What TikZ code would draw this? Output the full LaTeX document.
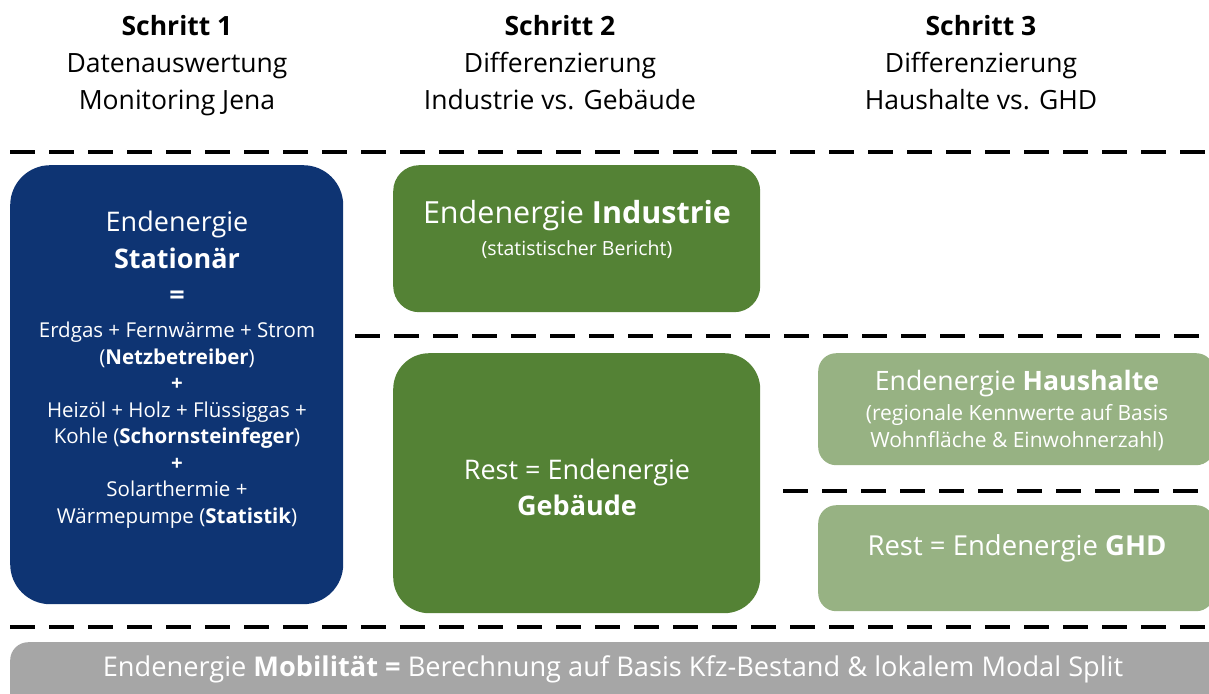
\documentclass[tikz,border=0pt]{standalone}
\usepackage{fontspec}
\setmainfont{Open Sans}
\usetikzlibrary{positioning}

\definecolor{jenablue}{RGB}{14,52,115}
\definecolor{darkgreen}{RGB}{84,130,53}
\definecolor{lightgreen}{RGB}{151,178,131}
\definecolor{mobgrey}{RGB}{166,166,166}

\newcommand{\fsz}[2]{\fontsize{#1}{#2}\selectfont}

\begin{document}
\begin{tikzpicture}[
            x = 1pt, y = -1pt, % pixel coordinates, y down
            sep/.style = {line width=4pt, dash pattern=on 25pt off 14pt}, % dashed separator
            box/.style = {rounded corners=#1, inner sep=0pt, anchor=north west},
            txt/.style = {text=white, align=center, inner sep=0pt},
            head/.style = {align=center, inner sep=0pt, text depth=0pt, font=\fsz{26.5}{37}}
        ]
\useasboundingbox (0,0) rectangle (1209,693);
\clip (0,0) rectangle (1209,693);

% headings
\node[head] (H1) at (177,62) {\textbf{Schritt 1}\\Datenauswertung\\Monitoring Jena};
\node[head] (H2) at (560,62) {\textbf{Schritt 2}\\Differenzierung\\Industrie vs. Gebäude};
\node[head] (H3) at (981,62) {\textbf{Schritt 3}\\Differenzierung\\Haushalte vs. GHD};

% separators
\draw[sep] (10,152) -- (1209,152);
\draw[sep] (355,336) -- (1209,336);
\draw[sep] (783,491) -- (1209,491);
\draw[sep] (10,627) -- (1209,627);

% boxes
\node[box=40pt, fill=jenablue, minimum width=333pt, minimum height=439pt] (S) at (10,165) {};
\node[box=26pt, fill=darkgreen, minimum width=367pt, minimum height=147pt] (I) at (393,165) {};
\node[box=36pt, fill=darkgreen, minimum width=367pt, minimum height=260pt] (G) at (393,353) {};
\node[box=18pt, fill=lightgreen, minimum width=396pt, minimum height=112pt] (HH) at (818,353) {};
\node[box=18pt, fill=lightgreen, minimum width=396pt, minimum height=106pt] (GHD) at (818,505) {};
\node[box=18pt, fill=mobgrey, minimum width=1220pt, minimum height=80pt] (M) at (10,642) {};

% texts
\node[txt, font=\fsz{27}{36.5}] (St) at (177,258) {Endenergie\\\textbf{Stationär}\\\textbf{=}};
\node[txt, font=\fsz{20.5}{26.5}] (Src) at (177,425) {Erdgas + Fernwärme + Strom\\(\textbf{Netzbetreiber})\\\textbf{+}\\Heizöl + Holz + Flüssiggas +\\Kohle (\textbf{Schornsteinfeger})\\\textbf{+}\\Solarthermie +\\Wärmepumpe (\textbf{Statistik})};
\node[txt, font=\fsz{30.5}{34}] (It) at (577,216) {Endenergie \textbf{Industrie}};
\node[txt, font=\fsz{19.5}{24}] (Ib) at (577,250) {(statistischer Bericht)};
\node[txt, font=\fsz{27}{36}] (Gt) at (577,487) {Rest = Endenergie\\\textbf{Gebäude}};
\node[txt, font=\fsz{26.7}{30}] (Ht) at (1017,384) {Endenergie \textbf{Haushalte}};
\node[txt, font=\fsz{21}{27}] (Hb) at (1017,428) {(regionale Kennwerte auf Basis\\Wohnfläche \& Einwohnerzahl)};
\node[txt, font=\fsz{27.5}{30}] (Gh) at (1017,548) {Rest = Endenergie \textbf{GHD}};
\node[txt, font=\fsz{27.2}{30}] (Mt) at (613,669) {Endenergie \textbf{Mobilität =} Berechnung auf Basis Kfz-Bestand \& lokalem Modal Split};
\end{tikzpicture}
\end{document}
